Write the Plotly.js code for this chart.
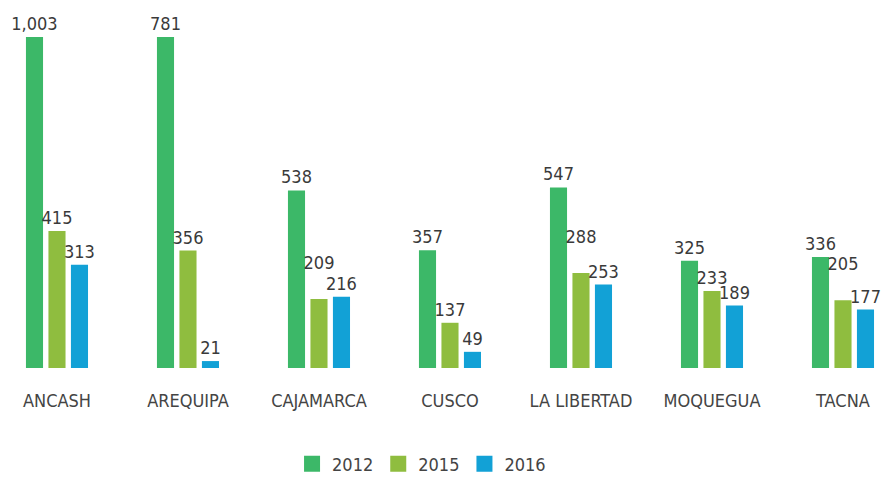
<!DOCTYPE html>
<html><head><meta charset="utf-8">
<script src="https://cdn.plot.ly/plotly-3.0.1.min.js"></script>
<style>html,body{margin:0;padding:0;background:#fff;}#chart{width:895px;height:477px;}</style>
</head><body><div id="chart"></div>
<script>
const categories = ["ANCASH", "AREQUIPA", "CAJAMARCA", "CUSCO", "LA LIBERTAD", "MOQUEGUA", "TACNA"];
const seriesNames = ["2012", "2015", "2016"];
// bar lengths as drawn in the picture
const values2012 = [1003, 1003, 538, 357, 547, 325, 336];
const values2015 = [415, 356, 209, 137, 288, 233, 205];
const values2016 = [313, 21, 216, 49, 253, 189, 177];
// value labels as printed
const labels2012 = ["1,003", "781", "538", "357", "547", "325", "336"];
const labels2015 = ["415", "356", "209", "137", "288", "233", "205"];
const labels2016 = ["313", "21", "216", "49", "253", "189", "177"];

const colors = ["#3cb868", "#8fbd3f", "#12a1d6"];
const font = "DejaVu Sans Condensed, Liberation Sans Narrow, sans-serif";
const vals = [values2012, values2015, values2016];
const labs = [labels2012, labels2015, labels2016];

// lift a label one line when its right neighbour's label would collide with it
const clash = 40;
const texts = labs.map((l, i) => l.map((t, j) => {
  if (i < vals.length - 1 && vals[i + 1][j] > vals[i][j] - clash) return t + "<br>\u00A0";
  return t;
}));

const traces = vals.map((v, i) => ({
  type: "bar", x: categories, y: v, name: seriesNames[i], showlegend: false,
  text: texts[i], textposition: "outside", cliponaxis: false, constraintext: "none",
  textfont: {family: font, size: 18, color: "#3a3a3a"},
  marker: {color: colors[i]}, hoverinfo: "none"
}));
seriesNames.forEach((n, i) => traces.push({
  type: "scatter", mode: "markers", x: [null], y: [null], name: n,
  marker: {symbol: "square", size: 16, color: colors[i]}, hoverinfo: "none"
}));

const layout = {
  width: 895, height: 477,
  margin: {l: 0, r: 0, t: 0, b: 108.5},
  barmode: "group", bargap: 0.485, bargroupgap: 0.24,
  uniformtext: {mode: false},
  paper_bgcolor: "#fff", plot_bgcolor: "#fff",
  xaxis: {type: "category", range: [-0.435, 6.397], showgrid: false, zeroline: false,
          showline: false, ticks: "", ticklabelstandoff: 20,
          tickfont: {family: font, size: 18, color: "#444"}},
  yaxis: {range: [0, 1115], visible: false},
  showlegend: true,
  legend: {orientation: "h", xref: "paper", x: 0.471, xanchor: "center",
           yref: "container", y: 0.027, yanchor: "middle",
           font: {family: font, size: 18, color: "#444"}, itemwidth: 30}
};
Plotly.newPlot("chart", traces, layout, {displayModeBar: false, staticPlot: true});
</script></body></html>
